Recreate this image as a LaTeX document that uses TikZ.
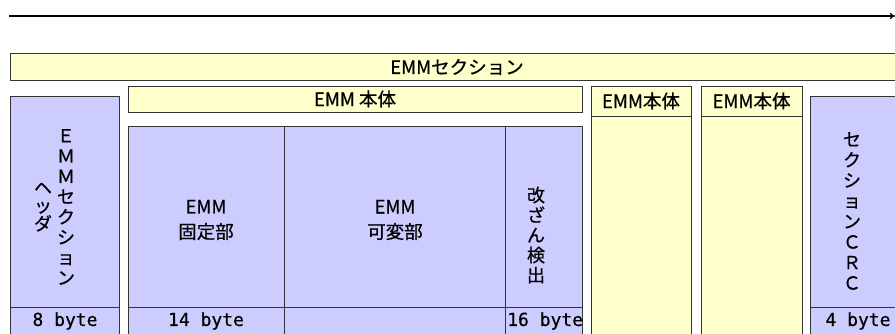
\documentclass[tikz,border=0pt]{standalone}
\usepackage{fontspec}
\setmainfont{Noto Sans CJK JP}[FakeBold=0.6]
\newfontfamily\bytefont{DejaVu Sans Mono}[FakeBold=0.5]
\usetikzlibrary{arrows.meta}

\begin{document}
\begin{tikzpicture}[
  x=1pt, y=-1pt,
  cell/.style={rectangle, draw=black!80, line width=1pt, fill=#1,
    anchor=north west, inner sep=0pt},
  lbl/.style={font=\fontsize{18.5}{25}\selectfont, align=center, inner sep=0pt},
  vtxt/.style={font=\fontsize{18}{#1}\selectfont, align=center, inner sep=0pt},
  bytes/.style={font=\bytefont\fontsize{18}{20}\selectfont, inner sep=0pt},
  rule/.style={draw=black!80, line width=1pt},
  arr/.style={->,>={To[length=5pt,width=6pt]},line width=1.2pt}
]
\colorlet{lav}{blue!20}
\definecolor{ylw}{RGB}{255,255,204}
\useasboundingbox (0,0) rectangle (895,334);
\clip (0,0) rectangle (895,334);
% Top arrow
\coordinate (start) at (9,16);
\coordinate (stop) at (895,16);
\draw[arr] (start) -- (stop);
% Section bar
\node[cell=ylw, minimum width=894pt, minimum height=27pt] (sec) at (10,53) {};
\node[lbl] (seclbl) at (457,67) {EMMセクション};
% Header column
\node[cell=lav, minimum width=109pt, minimum height=260pt] (hdr) at (10,96) {};
\node[vtxt=20.3] (hdrA) at (66,207) {Ｅ\\Ｍ\\Ｍ\\セ\\ク\\シ\\ョ\\ン};
\node[vtxt=18] (hdrB) at (43,207) {ヘ\\ッ\\ダ};
% EMM body
\node[cell=ylw, minimum width=454pt, minimum height=26pt] (body) at (128,86) {};
\node[lbl] (bodylbl) at (355,99) {EMM 本体};
\node[cell=lav, minimum width=156pt, minimum height=230pt] (fix) at (128,126) {};
\node[cell=lav, minimum width=221pt, minimum height=230pt] (var) at (284,126) {};
\node[cell=lav, minimum width=77pt, minimum height=230pt] (det) at (505,126) {};
\node[lbl] (fixlbl) at (206,220) {EMM\\固定部};
\node[lbl] (varlbl) at (395,220) {EMM\\可変部};
\node[vtxt=20] (detlbl) at (536,235) {改\\ざ\\ん\\検\\出};
% Further bodies
\node[cell=ylw, minimum width=100pt, minimum height=270pt] (bodyB) at (591,86) {};
\node[cell=ylw, minimum width=101pt, minimum height=270pt] (bodyC) at (701,86) {};
\node[lbl] (bodyBlbl) at (641,101) {EMM本体};
\node[lbl] (bodyClbl) at (751.5,101) {EMM本体};
\coordinate (hl) at (0,117);
\draw[rule] (bodyB.west |- hl) -- (bodyB.east |- hl);
\draw[rule] (bodyC.west |- hl) -- (bodyC.east |- hl);
% Section CRC
\node[cell=lav, minimum width=94pt, minimum height=260pt] (crc) at (810,96) {};
\node[vtxt=20.5] (crclbl) at (852,211) {セ\\ク\\シ\\ョ\\ン\\Ｃ\\Ｒ\\Ｃ};
% Byte row
\coordinate (bl) at (0,307);
\draw[rule] (hdr.west |- bl) -- (hdr.east |- bl);
\draw[rule] (fix.west |- bl) -- (det.east |- bl);
\draw[rule] (crc.west |- bl) -- (crc.east |- bl);
\node[bytes] (hdrby) at (65,321) {8 byte};
\node[bytes] (fixby) at (206,321) {14 byte};
\node[bytes, anchor=west] (detby) at (507,321) {16 byte};
\node[bytes] (crcby) at (858,321) {4 byte};
\end{tikzpicture}
\end{document}
